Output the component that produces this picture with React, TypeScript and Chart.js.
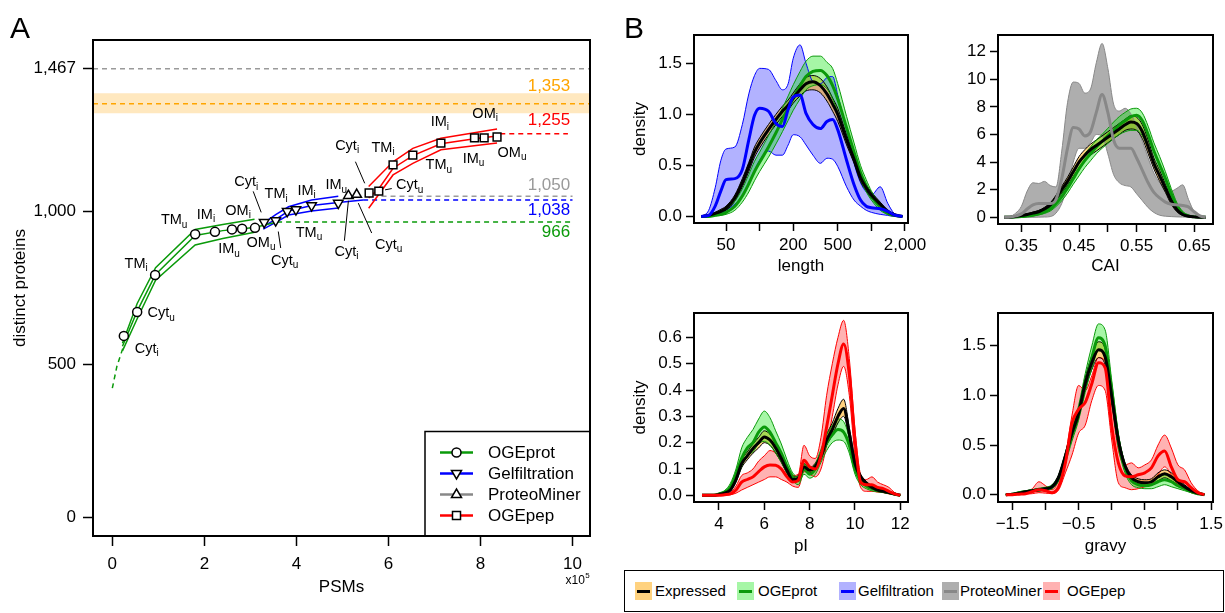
import React, { useEffect, useRef } from 'react';
import { Chart, registerables } from 'chart.js';

Chart.register(...registerables);

const FONT = '"Liberation Sans", Arial, Helvetica, sans-serif';
Chart.defaults.font.family = FONT;
Chart.defaults.color = '#000';

// ---------------- colours ----------------
const GREEN = '#0A9A0A';
const BLUE = '#0000FF';
const GRAY = '#888888';
const LIGHTGRAY = '#9A9A9A';
const RED = '#FF0000';
const ORANGE = '#FFA500';

// ================= Panel A : rarefaction =================
const aXTicks = [0, 2, 4, 6, 8, 10];
const aXTickLabels = ['0', '2', '4', '6', '8', '10'];
const aYTicks = [0, 500, 1000, 1467];
const aYTickLabels = ['0', '500', '1,000', '1,467'];

const fractionNames = ['Cyt', 'Cyt', 'TM', 'TM', 'IM', 'IM', 'OM', 'OM'];
const fractionSubs = ['i', 'u', 'i', 'u', 'i', 'u', 'i', 'u'];

// measured points (PSMs x1e5, distinct proteins)
const ogeprotPSMs = [0.25, 0.54, 0.93, 1.8, 2.23, 2.6, 2.82, 3.1];
const ogeprotProteins = [594, 672, 793, 926, 934, 942, 944, 947];
const gelPSMs = [3.3, 3.55, 3.8, 3.99, 4.33, 4.91];
const gelProteins = [965, 971, 1001, 1007, 1020, 1028];
const pmPSMs = [5.13, 5.31];
const pmProteins = [1052, 1056];
const pepPSMs = [5.58, 5.79, 6.1, 6.53, 7.14, 7.87, 8.08, 8.36];
const pepProteins = [1061, 1067, 1153, 1185, 1224, 1241, 1241, 1244];

// rarefaction curve bundles
const ogeprotCurvePSMs = [0.22, 0.54, 0.94, 1.8, 2.4, 3.09];
const ogeprotCurveHi = [570, 700, 817, 942, 958, 975];
const ogeprotCurveLo = [545, 650, 776, 891, 912, 933];
const ogeprotMeanPSMs = [0.22, 0.54, 0.94, 1.8, 2.4, 3.09, 3.58];
const ogeprotMean = [560, 675, 795, 922, 938, 948, 966];
const ogeprotStartPSMs = [0, 0.1, 0.24];
const ogeprotStartProteins = [423, 495, 559];

const gelCurvePSMs = [3.28, 3.55, 3.83, 4.33, 4.91];
const gelCurveHi = [962, 990, 1016, 1038, 1050];
const gelCurveLo = [943, 965, 989, 1002, 1012];
const gelMeanPSMs = [3.28, 3.55, 3.83, 4.33, 4.91, 5.45];
const gelMean = [952, 975, 1002, 1020, 1030, 1038];

const pepCurvePSMs = [5.57, 6.1, 6.53, 7.14, 8.36];
const pepCurveHi = [1082, 1163, 1207, 1240, 1270];
const pepCurveLo = [1011, 1120, 1158, 1202, 1224];
const pepMeanPSMs = [5.57, 5.79, 6.1, 6.53, 7.14, 7.87, 8.36, 8.43];
const pepMean = [1045, 1075, 1142, 1183, 1222, 1238, 1247, 1253];

// saturation levels
const totalLevel = 1467;
const expressedLevel = 1353;
const expressedLow = 1322;
const expressedHigh = 1387;
const ogeprotLevel = 966;
const gelLevel = 1038;
const pmLevel = 1050;
const pepLevel = 1255;
const ogeprotLevelFrom = 3.58;
const gelLevelFrom = 5.45;
const pmLevelFrom = 5.85;
const pepLevelFrom = 8.43;
const pepLevelTo = 9.9;
const levelEnd = 10;

// ================= Panel B : densities =================
// length (log axis)
const lengthGrid = [30, 35, 40, 45, 50, 60, 70, 80, 90, 100, 120, 140, 160, 180, 200, 230, 260, 300, 350, 400, 450, 500, 600, 700, 800, 900, 1000, 1200, 1400, 1600, 1900];
const lengthExpMid = [0, 0.01, 0.03, 0.05, 0.08, 0.18, 0.33, 0.49, 0.63, 0.72, 0.85, 0.95, 1.03, 1.09, 1.16, 1.24, 1.3, 1.32, 1.28, 1.2, 1.1, 1.0, 0.75, 0.56, 0.38, 0.28, 0.21, 0.12, 0.05, 0.016, 0];
const lengthExpLo = [0, 0.005, 0.02, 0.04, 0.06, 0.15, 0.29, 0.44, 0.58, 0.67, 0.8, 0.9, 0.98, 1.04, 1.11, 1.18, 1.23, 1.24, 1.21, 1.13, 1.03, 0.93, 0.7, 0.52, 0.34, 0.25, 0.18, 0.1, 0.04, 0.01, 0];
const lengthExpHi = [0, 0.015, 0.04, 0.07, 0.1, 0.21, 0.37, 0.53, 0.68, 0.77, 0.9, 1.0, 1.08, 1.14, 1.21, 1.3, 1.36, 1.38, 1.35, 1.27, 1.16, 1.06, 0.8, 0.6, 0.42, 0.31, 0.24, 0.14, 0.06, 0.025, 0];
const lengthOgeMid = [0, 0, 0.01, 0.02, 0.04, 0.1, 0.2, 0.32, 0.44, 0.53, 0.68, 0.82, 0.95, 1.06, 1.16, 1.28, 1.37, 1.42, 1.43, 1.38, 1.28, 1.15, 0.87, 0.63, 0.43, 0.3, 0.2, 0.09, 0.03, 0.01, 0];
const lengthOgeLo = [0, 0, 0.005, 0.01, 0.02, 0.06, 0.14, 0.24, 0.35, 0.44, 0.58, 0.71, 0.83, 0.94, 1.04, 1.15, 1.24, 1.28, 1.29, 1.25, 1.15, 1.02, 0.75, 0.55, 0.36, 0.24, 0.16, 0.06, 0.02, 0.005, 0];
const lengthOgeHi = [0, 0.005, 0.02, 0.04, 0.07, 0.15, 0.27, 0.41, 0.54, 0.63, 0.79, 0.93, 1.06, 1.18, 1.29, 1.42, 1.52, 1.57, 1.57, 1.51, 1.45, 1.3, 0.98, 0.72, 0.5, 0.36, 0.25, 0.12, 0.05, 0.015, 0];
const lengthGelMid = [0, 0.01, 0.1, 0.25, 0.36, 0.37, 0.46, 0.75, 0.99, 1.06, 1.03, 0.91, 0.88, 1.05, 1.17, 1.19, 1.01, 0.9, 0.86, 0.93, 0.95, 0.85, 0.55, 0.31, 0.16, 0.1, 0.085, 0.075, 0.05, 0.015, 0];
const lengthGelLo = [0, 0, 0.01, 0.03, 0.06, 0.12, 0.2, 0.33, 0.45, 0.55, 0.64, 0.6, 0.6, 0.7, 0.8, 0.78, 0.7, 0.6, 0.52, 0.57, 0.56, 0.49, 0.29, 0.16, 0.1, 0.06, 0.04, 0.02, 0.01, 0, 0];
const lengthGelHi = [0, 0.06, 0.28, 0.55, 0.66, 0.68, 0.9, 1.2, 1.38, 1.45, 1.44, 1.33, 1.24, 1.3, 1.55, 1.68, 1.5, 1.32, 1.3, 1.36, 1.37, 1.19, 0.85, 0.52, 0.33, 0.24, 0.21, 0.29, 0.13, 0.03, 0];
const lengthXTicks = [50, 100, 200, 500, 1000, 2000];
const lengthXLabels = ['50', '', '200', '500', '', '2,000'];
const lengthYTicks = [0, 0.5, 1, 1.5];
const lengthYLabels = ['0.0', '0.5', '1.0', '1.5'];

// CAI
const caiGrid = [0.32, 0.33, 0.34, 0.35, 0.36, 0.37, 0.38, 0.39, 0.4, 0.41, 0.42, 0.43, 0.44, 0.45, 0.46, 0.47, 0.48, 0.49, 0.5, 0.51, 0.52, 0.53, 0.54, 0.55, 0.56, 0.57, 0.58, 0.59, 0.6, 0.61, 0.62, 0.63, 0.64, 0.65, 0.66, 0.67];
const caiExpMid = [0, 0, 0.05, 0.12, 0.2, 0.3, 0.4, 0.6, 0.9, 1.4, 2.0, 2.6, 3.3, 4.0, 4.5, 4.9, 5.2, 5.5, 5.8, 6.1, 6.4, 6.7, 6.9, 6.8, 6.2, 5.1, 3.9, 3.0, 2.1, 1.2, 0.55, 0.2, 0.08, 0.03, 0, 0];
const caiExpLo = [0, 0, 0.03, 0.08, 0.15, 0.22, 0.3, 0.48, 0.75, 1.2, 1.75, 2.3, 2.95, 3.6, 4.1, 4.5, 4.8, 5.1, 5.4, 5.7, 6.0, 6.3, 6.4, 6.3, 5.7, 4.6, 3.5, 2.6, 1.8, 0.95, 0.4, 0.14, 0.05, 0.02, 0, 0];
const caiExpHi = [0, 0.01, 0.08, 0.16, 0.26, 0.38, 0.5, 0.72, 1.05, 1.6, 2.25, 2.9, 3.65, 4.4, 4.9, 5.3, 5.6, 5.9, 6.2, 6.5, 6.8, 7.1, 7.35, 7.25, 6.7, 5.6, 4.3, 3.4, 2.4, 1.4, 0.7, 0.28, 0.11, 0.04, 0.01, 0];
const caiOgeMid = [0, 0, 0.02, 0.05, 0.1, 0.15, 0.25, 0.4, 0.6, 1.0, 1.5, 2.1, 2.8, 3.5, 4.1, 4.6, 5.1, 5.5, 5.9, 6.3, 6.7, 7.0, 7.3, 7.4, 7.0, 6.0, 4.8, 3.8, 2.8, 1.7, 0.8, 0.3, 0.1, 0.03, 0, 0];
const caiOgeLo = [0, 0, 0.01, 0.03, 0.06, 0.1, 0.17, 0.28, 0.45, 0.78, 1.2, 1.75, 2.4, 3.0, 3.6, 4.1, 4.6, 5.0, 5.35, 5.7, 6.0, 6.2, 6.3, 6.3, 5.9, 5.0, 3.9, 3.0, 2.1, 1.2, 0.5, 0.18, 0.06, 0.02, 0, 0];
const caiOgeHi = [0, 0.01, 0.04, 0.08, 0.14, 0.21, 0.34, 0.53, 0.78, 1.25, 1.8, 2.45, 3.2, 3.95, 4.6, 5.1, 5.6, 6.0, 6.45, 6.9, 7.3, 7.6, 7.85, 7.9, 7.55, 6.6, 5.4, 4.4, 3.3, 2.1, 1.05, 0.42, 0.15, 0.05, 0.01, 0];
const caiPmMid = [0, 0.02, 0.1, 0.25, 0.6, 0.9, 1.0, 1.0, 1.0, 1.3, 2.8, 5.0, 6.5, 6.4, 5.9, 6.2, 7.6, 8.9, 7.6, 5.6, 5.0, 5.0, 5.0, 4.3, 3.4, 2.5, 1.8, 1.4, 1.1, 0.95, 0.9, 0.85, 0.75, 0.4, 0.1, 0];
const caiPmLo = [0, 0, 0, 0, 0, 0, 0.01, 0.02, 0.05, 0.3, 1.0, 2.3, 4.0, 5.0, 5.0, 5.4, 6.0, 5.9, 4.6, 3.1, 2.5, 2.3, 2.2, 1.7, 1.2, 0.7, 0.35, 0.15, 0.08, 0.05, 0.03, 0.02, 0.01, 0, 0, 0];
const caiPmHi = [0, 0.05, 0.3, 0.8, 1.9, 2.5, 2.45, 2.6, 2.3, 2.2, 4.8, 8.3, 9.8, 9.7, 9.0, 9.3, 11.2, 12.6, 10.8, 8.2, 7.7, 7.9, 7.5, 6.6, 5.5, 4.3, 3.2, 2.5, 2.2, 1.9, 2.1, 2.35, 1.3, 0.4, 0.08, 0];
const caiXTicks = [0.35, 0.4, 0.45, 0.5, 0.55, 0.6, 0.65];
const caiXLabels = ['0.35', '', '0.45', '', '0.55', '', '0.65'];
const caiYTicks = [0, 2, 4, 6, 8, 10, 12];
const caiYLabels = ['0', '2', '4', '6', '8', '10', '12'];

// pI
const piGrid = [3.25, 3.5, 3.75, 4, 4.25, 4.5, 4.75, 5, 5.25, 5.5, 5.75, 6, 6.25, 6.5, 6.75, 7, 7.25, 7.5, 7.75, 8, 8.25, 8.5, 8.75, 9, 9.25, 9.5, 9.75, 10, 10.25, 10.5, 10.75, 11, 11.25, 11.5, 11.75, 12];
const piExpMid = [0, 0, 0, 0.003, 0.008, 0.02, 0.06, 0.12, 0.15, 0.178, 0.2, 0.222, 0.21, 0.18, 0.14, 0.095, 0.06, 0.065, 0.108, 0.095, 0.11, 0.15, 0.21, 0.25, 0.3, 0.33, 0.235, 0.12, 0.07, 0.045, 0.03, 0.02, 0.015, 0.01, 0.005, 0];
const piExpLo = [0, 0, 0, 0.002, 0.006, 0.015, 0.05, 0.105, 0.135, 0.16, 0.18, 0.2, 0.19, 0.162, 0.125, 0.083, 0.052, 0.056, 0.095, 0.085, 0.098, 0.135, 0.19, 0.228, 0.275, 0.3, 0.215, 0.105, 0.06, 0.038, 0.025, 0.016, 0.012, 0.008, 0.003, 0];
const piExpHi = [0, 0, 0.001, 0.005, 0.011, 0.026, 0.072, 0.135, 0.165, 0.195, 0.22, 0.245, 0.232, 0.2, 0.157, 0.108, 0.07, 0.075, 0.12, 0.106, 0.122, 0.166, 0.232, 0.275, 0.33, 0.365, 0.258, 0.136, 0.08, 0.053, 0.036, 0.025, 0.019, 0.013, 0.007, 0];
const piOgeMid = [0, 0, 0, 0.005, 0.012, 0.03, 0.08, 0.14, 0.18, 0.2, 0.24, 0.26, 0.24, 0.2, 0.16, 0.11, 0.07, 0.055, 0.1, 0.08, 0.1, 0.15, 0.2, 0.23, 0.25, 0.24, 0.19, 0.1, 0.055, 0.035, 0.025, 0.02, 0.015, 0.01, 0.004, 0];
const piOgeLo = [0, 0, 0, 0.003, 0.008, 0.02, 0.055, 0.11, 0.15, 0.165, 0.195, 0.205, 0.19, 0.16, 0.125, 0.085, 0.055, 0.04, 0.08, 0.065, 0.08, 0.125, 0.17, 0.2, 0.21, 0.205, 0.16, 0.08, 0.04, 0.025, 0.017, 0.013, 0.01, 0.006, 0.002, 0];
const piOgeHi = [0, 0, 0.001, 0.008, 0.018, 0.045, 0.1, 0.18, 0.22, 0.25, 0.29, 0.32, 0.295, 0.245, 0.195, 0.135, 0.085, 0.07, 0.12, 0.1, 0.12, 0.175, 0.23, 0.265, 0.29, 0.28, 0.22, 0.12, 0.07, 0.045, 0.033, 0.026, 0.02, 0.013, 0.006, 0];
const piPepMid = [0, 0, 0, 0, 0.002, 0.005, 0.02, 0.05, 0.06, 0.07, 0.09, 0.108, 0.115, 0.114, 0.1, 0.07, 0.05, 0.057, 0.133, 0.108, 0.1, 0.15, 0.26, 0.38, 0.5, 0.575, 0.46, 0.21, 0.05, 0.04, 0.04, 0.03, 0.025, 0.015, 0.005, 0];
const piPepLo = [0, 0, 0, 0, 0.001, 0.002, 0.008, 0.02, 0.03, 0.04, 0.05, 0.06, 0.07, 0.07, 0.06, 0.05, 0.035, 0.03, 0.09, 0.08, 0.07, 0.1, 0.19, 0.3, 0.42, 0.49, 0.38, 0.15, 0.03, 0.015, 0.015, 0.012, 0.01, 0.005, 0.002, 0];
const piPepHi = [0, 0, 0, 0, 0.003, 0.01, 0.035, 0.075, 0.085, 0.1, 0.13, 0.15, 0.17, 0.16, 0.13, 0.1, 0.075, 0.08, 0.19, 0.15, 0.14, 0.22, 0.38, 0.5, 0.6, 0.665, 0.52, 0.25, 0.08, 0.06, 0.07, 0.05, 0.04, 0.03, 0.01, 0];
const piXTicks = [4, 6, 8, 10, 12];
const piXLabels = ['4', '6', '8', '10', '12'];
const piYTicks = [0, 0.1, 0.2, 0.3, 0.4, 0.5, 0.6];
const piYLabels = ['0.0', '0.1', '0.2', '0.3', '0.4', '0.5', '0.6'];

// gravy
const gravyGrid = [-1.6, -1.5, -1.4, -1.3, -1.2, -1.1, -1.0, -0.9, -0.8, -0.7, -0.6, -0.5, -0.4, -0.3, -0.2, -0.1, 0, 0.1, 0.2, 0.3, 0.4, 0.5, 0.6, 0.7, 0.8, 0.9, 1.0, 1.1, 1.2, 1.3, 1.4];
const gravyExpMid = [0, 0.005, 0.015, 0.03, 0.04, 0.05, 0.06, 0.08, 0.18, 0.39, 0.62, 0.82, 1.12, 1.33, 1.46, 1.39, 0.99, 0.55, 0.29, 0.17, 0.13, 0.12, 0.13, 0.18, 0.21, 0.18, 0.13, 0.08, 0.04, 0.015, 0];
const gravyExpLo = [0, 0.003, 0.01, 0.022, 0.03, 0.04, 0.05, 0.065, 0.16, 0.36, 0.58, 0.77, 1.06, 1.26, 1.38, 1.31, 0.93, 0.5, 0.26, 0.14, 0.1, 0.09, 0.1, 0.14, 0.17, 0.14, 0.1, 0.06, 0.03, 0.01, 0];
const gravyExpHi = [0, 0.007, 0.02, 0.038, 0.05, 0.06, 0.07, 0.095, 0.2, 0.42, 0.66, 0.87, 1.18, 1.4, 1.54, 1.47, 1.05, 0.6, 0.32, 0.2, 0.16, 0.15, 0.16, 0.22, 0.25, 0.22, 0.16, 0.1, 0.05, 0.02, 0];
const gravyOgeMid = [0, 0.005, 0.02, 0.03, 0.04, 0.05, 0.06, 0.08, 0.17, 0.37, 0.6, 0.82, 1.12, 1.38, 1.58, 1.5, 1.05, 0.55, 0.27, 0.14, 0.1, 0.09, 0.1, 0.13, 0.15, 0.13, 0.09, 0.06, 0.03, 0.01, 0];
const gravyOgeLo = [0, 0.003, 0.01, 0.02, 0.03, 0.035, 0.045, 0.06, 0.14, 0.32, 0.54, 0.75, 1.03, 1.27, 1.45, 1.38, 0.95, 0.48, 0.22, 0.1, 0.07, 0.06, 0.06, 0.08, 0.1, 0.08, 0.06, 0.04, 0.02, 0.005, 0];
const gravyOgeHi = [0, 0.008, 0.03, 0.04, 0.05, 0.065, 0.075, 0.1, 0.2, 0.42, 0.67, 0.9, 1.22, 1.5, 1.72, 1.66, 1.15, 0.62, 0.31, 0.17, 0.13, 0.12, 0.13, 0.17, 0.2, 0.18, 0.13, 0.08, 0.04, 0.015, 0];
const gravyPepMid = [0, 0, 0.005, 0.01, 0.03, 0.05, 0.04, 0.02, 0.08, 0.32, 0.72, 0.86, 0.93, 1.12, 1.33, 1.28, 0.69, 0.32, 0.19, 0.18, 0.2, 0.22, 0.27, 0.39, 0.44, 0.28, 0.15, 0.13, 0.07, 0.02, 0];
const gravyPepLo = [0, 0, 0, 0.005, 0.01, 0.02, 0.015, 0.01, 0.05, 0.22, 0.4, 0.62, 0.7, 0.95, 1.1, 1.05, 0.55, 0.12, 0.07, 0.05, 0.06, 0.08, 0.1, 0.2, 0.28, 0.2, 0.1, 0.06, 0.02, 0.005, 0];
const gravyPepHi = [0, 0, 0.01, 0.02, 0.06, 0.13, 0.09, 0.05, 0.15, 0.39, 0.8, 1.1, 1.05, 1.2, 1.38, 1.35, 0.9, 0.45, 0.3, 0.32, 0.27, 0.3, 0.35, 0.5, 0.6, 0.47, 0.3, 0.25, 0.12, 0.04, 0];
const gravyXTicks = [-1.5, -1, -0.5, 0, 0.5, 1, 1.5];
const gravyXLabels = ['\u22121.5', '', '\u22120.5', '', '0.5', '', '1.5'];
const gravyYTicks = [0, 0.5, 1, 1.5];
const gravyYLabels = ['0.0', '0.5', '1.0', '1.5'];

// bottom legend
const legendNames = ['Expressed', 'OGEprot', 'Gelfiltration', 'ProteoMiner', 'OGEpep'];

// ---------------- helpers ----------------
const toXY = (xs: number[], ys: number[]) => xs.map((x, i) => ({ x, y: ys[i] }));

function lineDs(data: any[], color: string, width: number, extra: any = {}) {
  return { data, borderColor: color, borderWidth: width, pointRadius: 0, fill: false, tension: 0, ...extra };
}

function drawSub(ctx: CanvasRenderingContext2D, base: string, sub: string, cx: number, cy: number) {
  ctx.font = `14.5px ${FONT}`;
  const wb = ctx.measureText(base).width;
  ctx.font = `10px ${FONT}`;
  const ws = ctx.measureText(sub).width;
  const x0 = cx - (wb + ws) / 2;
  ctx.textAlign = 'left';
  ctx.textBaseline = 'alphabetic';
  ctx.fillStyle = '#000';
  ctx.font = `14.5px ${FONT}`;
  ctx.fillText(base, x0, cy + 5);
  ctx.font = `10px ${FONT}`;
  ctx.fillText(sub, x0 + wb, cy + 8.5);
}

function drawMarker(ctx: CanvasRenderingContext2D, kind: string, cx: number, cy: number) {
  ctx.beginPath();
  if (kind === 'circle') ctx.arc(cx, cy, 4.5, 0, Math.PI * 2);
  else if (kind === 'down') { ctx.moveTo(cx - 5, cy - 3); ctx.lineTo(cx + 5, cy - 3); ctx.lineTo(cx, cy + 5.5); ctx.closePath(); }
  else if (kind === 'up') { ctx.moveTo(cx - 5, cy + 3); ctx.lineTo(cx + 5, cy + 3); ctx.lineTo(cx, cy - 5.5); ctx.closePath(); }
  else ctx.rect(cx - 4, cy - 4, 8, 8);
  ctx.fillStyle = '#fff';
  ctx.fill();
  ctx.lineWidth = 1.5;
  ctx.strokeStyle = '#000';
  ctx.stroke();
}

const boxPlugin = {
  id: 'box',
  afterDraw(chart: any) {
    const { ctx, chartArea: a } = chart;
    ctx.save();
    ctx.lineWidth = 2;
    ctx.strokeStyle = '#000';
    ctx.strokeRect(a.left, a.top, a.right - a.left, a.bottom - a.top);
    ctx.restore();
  },
};

// label offsets (pixels from marker) for panel A annotations
const ogeprotLabelOffsets = [[23, 12], [24, 0], [-19, -12], [-21, -15], [-9, -18], [-3, 19], [-4, -19], [6, 14]];
const gelLabelOffsets = [[-18, -41], [9, 39], [-11, -18], [13, 22], [-5, -16], [-2, -19]];
const pmLabelOffsets = [[-2, 55], [32, 49]];
const pepLabelOffsets = [[-22, -48], [31, -7], [-10, -18], [26, 9], [-1, -22], [-1, 20], [1, -25], [15, 15]];

function makePanelA() {
  const xMin = -0.42;
  const xMax = 10.38;
  const DASH = [5, 4];
  const datasets: any[] = [
    lineDs(toXY([xMin, xMax], [expressedLow, expressedLow]), 'rgba(0,0,0,0)', 1, { order: 30 }),
    lineDs(toXY([xMin, xMax], [expressedHigh, expressedHigh]), 'rgba(0,0,0,0)', 1, { order: 30, fill: '-1', backgroundColor: 'rgba(255,165,0,0.25)' }),
    lineDs(toXY([xMin, xMax], [expressedLevel, expressedLevel]), ORANGE, 1.5, { borderDash: DASH, order: 20 }),
    lineDs(toXY([xMin, xMax], [totalLevel, totalLevel]), LIGHTGRAY, 1.5, { borderDash: DASH, order: 20 }),
    lineDs(toXY(ogeprotStartPSMs, ogeprotStartProteins), GREEN, 1.5, { borderDash: DASH, order: 10 }),
    lineDs(toXY([ogeprotLevelFrom, levelEnd], [ogeprotLevel, ogeprotLevel]), GREEN, 1.5, { borderDash: DASH, order: 10 }),
    lineDs(toXY([gelLevelFrom, levelEnd], [gelLevel, gelLevel]), BLUE, 1.5, { borderDash: DASH, order: 10 }),
    lineDs(toXY([pmLevelFrom, levelEnd], [pmLevel, pmLevel]), LIGHTGRAY, 1.5, { borderDash: DASH, order: 10 }),
    lineDs(toXY([pepLevelFrom, pepLevelTo], [pepLevel, pepLevel]), RED, 1.5, { borderDash: DASH, order: 10 }),
    lineDs(toXY(ogeprotCurvePSMs, ogeprotCurveHi), GREEN, 1.5, { order: 5 }),
    lineDs(toXY(ogeprotMeanPSMs, ogeprotMean), GREEN, 1.5, { order: 5 }),
    lineDs(toXY(ogeprotCurvePSMs, ogeprotCurveLo), GREEN, 1.5, { order: 5 }),
    lineDs(toXY(gelCurvePSMs, gelCurveHi), BLUE, 1.5, { order: 5 }),
    lineDs(toXY(gelMeanPSMs, gelMean), BLUE, 1.5, { order: 5 }),
    lineDs(toXY(gelCurvePSMs, gelCurveLo), BLUE, 1.5, { order: 5 }),
    lineDs(toXY(pepCurvePSMs, pepCurveHi), RED, 1.5, { order: 5 }),
    lineDs(toXY(pepMeanPSMs, pepMean), RED, 1.5, { order: 5 }),
    lineDs(toXY(pepCurvePSMs, pepCurveLo), RED, 1.5, { order: 5 }),
  ];
  const pts = (xs: number[], ys: number[], style: string, radius: number, rot = 0) => ({
    data: toXY(xs, ys), showLine: false, pointStyle: style, pointRadius: radius, pointRotation: rot,
    pointBackgroundColor: '#fff', pointBorderColor: '#000', pointBorderWidth: 1.5, order: 0,
  });
  datasets.push(pts(ogeprotPSMs, ogeprotProteins, 'circle', 4.5));
  datasets.push(pts(gelPSMs, gelProteins, 'triangle', 5.5, 180));
  datasets.push(pts(pmPSMs, pmProteins, 'triangle', 5.5));
  datasets.push(pts(pepPSMs, pepProteins, 'rect', 5.5));

  const annot = {
    id: 'annotA',
    afterDatasetsDraw(chart: any) {
      const { ctx, chartArea: a, scales } = chart;
      const x = scales.x, y = scales.y;
      ctx.save();
      const groups = [
        { xs: ogeprotPSMs, ys: ogeprotProteins, offs: ogeprotLabelOffsets },
        { xs: gelPSMs, ys: gelProteins, offs: gelLabelOffsets },
        { xs: pmPSMs, ys: pmProteins, offs: pmLabelOffsets },
        { xs: pepPSMs, ys: pepProteins, offs: pepLabelOffsets },
      ];
      groups.forEach((g) => g.xs.forEach((v, i) => {
        const px = x.getPixelForValue(v);
        const py = y.getPixelForValue(g.ys[i]);
        drawSub(ctx, fractionNames[i], fractionSubs[i], px + g.offs[i][0], py + g.offs[i][1]);
      }));
      // pointer lines
      const pointers: any[] = [
        [gelPSMs[0], gelProteins[0], -11, -31, -3, -10],
        [gelPSMs[1], gelProteins[1], 2.6, 11, 5, 27.5],
        [pmPSMs[0], pmProteins[0], -4, 45, 0, 5],
        [pmPSMs[1], pmProteins[1], 15, 38.5, 1.6, 8.6],
        [pepPSMs[0], pepProteins[0], -13.7, -31.3, -4.4, -9.7],
        [pepPSMs[1], pepProteins[1], 6.3, -1.3, 13, -2.6],
      ];
      ctx.strokeStyle = '#000';
      ctx.lineWidth = 1;
      pointers.forEach(([vx, vy, x1, y1, x2, y2]) => {
        const px = x.getPixelForValue(vx);
        const py = y.getPixelForValue(vy);
        ctx.beginPath();
        ctx.moveTo(px + x1, py + y1);
        ctx.lineTo(px + x2, py + y2);
        ctx.stroke();
      });
      // level labels
      const lx = x.getPixelForValue(9.95);
      const levels: any[] = [
        [expressedLevel, '1,353', ORANGE, -17],
        [pepLevel, '1,255', RED, -13.5],
        [pmLevel, '1,050', LIGHTGRAY, -11.5],
        [gelLevel, '1,038', BLUE, 10],
        [ogeprotLevel, '966', GREEN, 10.5],
      ];
      ctx.font = `17px ${FONT}`;
      ctx.textAlign = 'right';
      ctx.textBaseline = 'middle';
      levels.forEach(([lv, txt, col, dy]) => {
        ctx.fillStyle = col;
        ctx.fillText(txt, lx, y.getPixelForValue(lv) + dy);
      });
      // x10^5
      const p10 = x.getPixelForValue(10);
      ctx.fillStyle = '#000';
      ctx.textAlign = 'left';
      ctx.textBaseline = 'alphabetic';
      ctx.font = `12px ${FONT}`;
      ctx.fillText('x10', p10 - 7, a.bottom + 47.5);
      const w = ctx.measureText('x10').width;
      ctx.font = `8px ${FONT}`;
      ctx.fillText('5', p10 - 7 + w + 0.5, a.bottom + 42);
      // legend
      const L = a.right - 165;
      const T = a.bottom - 104.5;
      ctx.fillStyle = '#fff';
      ctx.fillRect(L, T, a.right - L, a.bottom - T);
      ctx.lineWidth = 1.5;
      ctx.strokeStyle = '#000';
      ctx.strokeRect(L, T, a.right - L, a.bottom - T);
      const rows: any[] = [
        ['OGEprot', GREEN, 'circle'],
        ['Gelfiltration', BLUE, 'down'],
        ['ProteoMiner', GRAY, 'up'],
        ['OGEpep', RED, 'square'],
      ];
      rows.forEach(([lab, col, mk], i) => {
        const ry = T + 21 + i * 21;
        ctx.strokeStyle = col;
        ctx.lineWidth = 2.5;
        ctx.beginPath();
        ctx.moveTo(L + 15, ry);
        ctx.lineTo(L + 48, ry);
        ctx.stroke();
        drawMarker(ctx, mk, L + 31.5, ry);
        ctx.fillStyle = '#000';
        ctx.font = `17px ${FONT}`;
        ctx.textAlign = 'left';
        ctx.textBaseline = 'middle';
        ctx.fillText(lab, L + 63, ry + 1);
      });
      ctx.restore();
    },
  };

  return {
    type: 'line',
    data: { datasets },
    options: {
      responsive: false,
      animation: false,
      events: [],
      layout: { padding: { top: 40, right: 20, left: 0, bottom: 0 } },
      plugins: { legend: { display: false }, tooltip: { enabled: false }, filler: { drawTime: 'beforeDatasetsDraw' } },
      scales: {
        x: {
          type: 'linear', min: xMin, max: xMax,
          afterBuildTicks: (s: any) => { s.ticks = aXTicks.map((v) => ({ value: v })); },
          afterFit: (s: any) => { s.height = 77; s.paddingLeft = 0; s.paddingRight = 0; },
          ticks: { autoSkip: false, maxRotation: 0, minRotation: 0, padding: 8, color: '#000', font: { size: 17 }, callback: (_v: any, i: number) => aXTickLabels[i] },
          grid: { drawOnChartArea: false, drawTicks: true, tickLength: 10, tickWidth: 1.5, tickColor: '#000' },
          border: { display: false },
          title: { display: true, text: 'PSMs', color: '#000', font: { size: 17 }, padding: { top: 0, bottom: 15 } },
        },
        y: {
          type: 'linear', min: -60, max: 1561,
          afterBuildTicks: (s: any) => { s.ticks = aYTicks.map((v) => ({ value: v })); },
          afterFit: (s: any) => { s.width = 93; s.paddingTop = 0; s.paddingBottom = 0; },
          ticks: { autoSkip: false, padding: 7, color: '#000', font: { size: 17 }, callback: (_v: any, i: number) => aYTickLabels[i] },
          grid: { drawOnChartArea: false, drawTicks: true, tickLength: 10, tickWidth: 1.5, tickColor: '#000' },
          border: { display: false },
          title: { display: true, text: 'distinct proteins', color: '#000', font: { size: 17 }, padding: { top: 10, bottom: 0 } },
        },
      },
    },
    plugins: [annot, boxPlugin],
  };
}

type Band = { lo: number[]; mid: number[]; hi: number[]; line: string; bound: string; fill: string };
type AxisSpec = { type?: string; min: number; max: number; ticks: number[]; labels: string[]; title?: string };

function makeDensity(o: {
  grid: number[]; bands: Band[]; x: AxisSpec; y: AxisSpec;
  padTop: number; padRight: number; yWidth: number; xHeight: number; xTitlePad: number;
}) {
  const common = { pointRadius: 0, tension: 0.4, cubicInterpolationMode: 'monotone' };
  const datasets: any[] = [];
  o.bands.forEach((b, i) => {
    datasets.push({ ...common, data: toXY(o.grid, b.lo), borderColor: b.bound, borderWidth: 1, fill: false, order: 30 - i });
    datasets.push({ ...common, data: toXY(o.grid, b.hi), borderColor: b.bound, borderWidth: 1, fill: '-1', backgroundColor: b.fill, order: 30 - i });
  });
  o.bands.forEach((b, i) => {
    datasets.push({ ...common, data: toXY(o.grid, b.mid), borderColor: b.line, borderWidth: 3, fill: false, order: i + 1 });
  });
  const axis = (s: AxisSpec, horizontal: boolean) => ({
    type: s.type || 'linear', min: s.min, max: s.max,
    afterBuildTicks: (sc: any) => { sc.ticks = s.ticks.map((v) => ({ value: v })); },
    afterFit: (sc: any) => {
      if (horizontal) { sc.height = o.xHeight; sc.paddingLeft = 0; sc.paddingRight = 0; }
      else { sc.width = o.yWidth; sc.paddingTop = 0; sc.paddingBottom = 0; }
    },
    ticks: { autoSkip: false, maxRotation: 0, minRotation: 0, padding: 4, color: '#000', font: { size: 17 }, callback: (_v: any, i: number) => s.labels[i] },
    grid: { drawOnChartArea: false, drawTicks: true, tickLength: 8, tickWidth: 1.5, tickColor: '#000' },
    border: { display: false },
    title: s.title
      ? { display: true, text: s.title, color: '#000', font: { size: 17 }, padding: horizontal ? { top: 0, bottom: o.xTitlePad } : { top: 10.5, bottom: 0 } }
      : { display: false },
  });
  return {
    type: 'line',
    data: { datasets },
    options: {
      responsive: false,
      animation: false,
      events: [],
      layout: { padding: { top: o.padTop, right: o.padRight, left: 0, bottom: 0 } },
      plugins: { legend: { display: false }, tooltip: { enabled: false }, filler: { drawTime: 'beforeDatasetsDraw' } },
      scales: { x: axis(o.x, true), y: axis(o.y, false) },
    },
    plugins: [boxPlugin],
  };
}

const EXP_FILL = 'rgba(255,165,0,0.5)';
const OGE_FILL = 'rgba(0,230,0,0.35)';
const GEL_FILL = 'rgba(0,0,255,0.3)';
const PM_FILL = 'rgba(120,120,120,0.6)';
const PEP_FILL = 'rgba(255,0,0,0.3)';

const expBand = (lo: number[], mid: number[], hi: number[]): Band => ({ lo, mid, hi, line: '#000', bound: '#000', fill: EXP_FILL });
const ogeBand = (lo: number[], mid: number[], hi: number[]): Band => ({ lo, mid, hi, line: GREEN, bound: GREEN, fill: OGE_FILL });

const makeLength = () => makeDensity({
  grid: lengthGrid,
  bands: [
    { lo: lengthGelLo, mid: lengthGelMid, hi: lengthGelHi, line: BLUE, bound: BLUE, fill: GEL_FILL },
    expBand(lengthExpLo, lengthExpMid, lengthExpHi),
    ogeBand(lengthOgeLo, lengthOgeMid, lengthOgeHi),
  ],
  x: { type: 'logarithmic', min: 25.85, max: 2128, ticks: lengthXTicks, labels: lengthXLabels, title: 'length' },
  y: { min: -0.0645, max: 1.777, ticks: lengthYTicks, labels: lengthYLabels, title: 'density' },
  padTop: 35, padRight: 24, yWidth: 74, xHeight: 77, xTitlePad: 23,
});

const makeCAI = () => makeDensity({
  grid: caiGrid,
  bands: [
    { lo: caiPmLo, mid: caiPmMid, hi: caiPmHi, line: GRAY, bound: GRAY, fill: PM_FILL },
    expBand(caiExpLo, caiExpMid, caiExpHi),
    ogeBand(caiOgeLo, caiOgeMid, caiOgeHi),
  ],
  x: { min: 0.3093, max: 0.6826, ticks: caiXTicks, labels: caiXLabels, title: 'CAI' },
  y: { min: -0.486, max: 13.21, ticks: caiYTicks, labels: caiYLabels },
  padTop: 35, padRight: 12, yWidth: 78, xHeight: 76, xTitlePad: 23,
});

const makePI = () => makeDensity({
  grid: piGrid,
  bands: [
    { lo: piPepLo, mid: piPepMid, hi: piPepHi, line: RED, bound: RED, fill: PEP_FILL },
    expBand(piExpLo, piExpMid, piExpHi),
    ogeBand(piOgeLo, piOgeMid, piOgeHi),
  ],
  x: { min: 2.897, max: 12.34, ticks: piXTicks, labels: piXLabels, title: 'pI' },
  y: { min: -0.0256, max: 0.693, ticks: piYTicks, labels: piYLabels, title: 'density' },
  padTop: 13, padRight: 12, yWidth: 74, xHeight: 63, xTitlePad: 8,
});

const makeGravy = () => makeDensity({
  grid: gravyGrid,
  bands: [
    { lo: gravyPepLo, mid: gravyPepMid, hi: gravyPepHi, line: RED, bound: RED, fill: PEP_FILL },
    expBand(gravyExpLo, gravyExpMid, gravyExpHi),
    ogeBand(gravyOgeLo, gravyOgeMid, gravyOgeHi),
  ],
  x: { min: -1.718, max: 1.53, ticks: gravyXTicks, labels: gravyXLabels, title: 'gravy' },
  y: { min: -0.074, max: 1.83, ticks: gravyYTicks, labels: gravyYLabels },
  padTop: 13, padRight: 12, yWidth: 78, xHeight: 63, xTitlePad: 8,
});

function ChartCanvas(props: { left: number; top: number; width: number; height: number; make: () => any }) {
  const ref = useRef<HTMLCanvasElement | null>(null);
  useEffect(() => {
    if (!ref.current) return;
    const chart = new Chart(ref.current, props.make());
    return () => chart.destroy();
  }, []);
  const { left, top, width, height } = props;
  return <canvas ref={ref} width={width} height={height} style={{ position: 'absolute', left, top, width, height }} />;
}

const legendFills = [EXP_FILL, OGE_FILL, GEL_FILL, PM_FILL, PEP_FILL];
const legendLines = ['#000', GREEN, BLUE, GRAY, RED];
const legendBoxLeft = [635, 737, 839, 942, 1043];
const legendTextLeft = [655, 758, 858, 960, 1067];

export default function App() {
  useEffect(() => {
    document.body.style.margin = '0';
  }, []);
  return (
    <div style={{ position: 'fixed', left: 0, top: 0, width: 1225, height: 613, background: '#fff', overflow: 'hidden', fontFamily: FONT, color: '#000' }}>
      <ChartCanvas left={0} top={0} width={610} height={613} make={makePanelA} />
      <ChartCanvas left={920} top={0} width={305} height={300} make={makeCAI} />
      <ChartCanvas left={620} top={0} width={312} height={300} make={makeLength} />
      <ChartCanvas left={620} top={300} width={300} height={265} make={makePI} />
      <ChartCanvas left={920} top={300} width={305} height={265} make={makeGravy} />
      <div style={{ position: 'absolute', left: 10, top: 13, fontSize: 30, lineHeight: '30px' }}>A</div>
      <div style={{ position: 'absolute', left: 624, top: 13, fontSize: 30, lineHeight: '30px' }}>B</div>
      <div style={{ position: 'absolute', left: 624, top: 570, width: 600, height: 42, border: '1.5px solid #000', boxSizing: 'border-box' }} />
      {legendNames.map((name, i) => (
        <React.Fragment key={name}>
          <div style={{ position: 'absolute', left: legendBoxLeft[i], top: 582, width: 17, height: 18, background: legendFills[i] }} />
          <div style={{ position: 'absolute', left: legendBoxLeft[i] + 2, top: 590, width: 13, height: 3, background: legendLines[i] }} />
          <div style={{ position: 'absolute', left: legendTextLeft[i], top: 581, height: 20, lineHeight: '20px', fontSize: 15, whiteSpace: 'nowrap' }}>{name}</div>
        </React.Fragment>
      ))}
    </div>
  );
}
